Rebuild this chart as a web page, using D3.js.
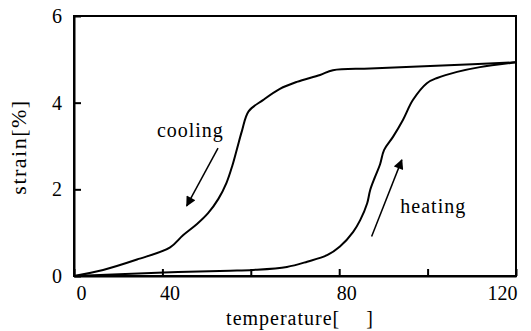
<!DOCTYPE html>
<html>
<head>
<meta charset="utf-8">
<script src="https://cdn.jsdelivr.net/npm/d3@7"></script>
<style>
  body { margin: 0; background: #fff; }
  .axis path, .axis line { stroke: #000; stroke-width: 2; }
  .curve { fill: none; stroke: #000; stroke-width: 2; stroke-linejoin: round; }
</style>
</head>
<body>
<div id="chart"></div>
<script>
const serif = '"Liberation Serif", "Times New Roman", "DejaVu Serif", serif';

// x tick marks and the labels the figure prints under some of them
const xTicks = [0, 24, 48, 72, 96, 120];
const xTickLabels = { 0: '0', 24: '40', 72: '80', 120: '120' };
const yTicks = [0, 2, 4, 6];

// heating branch: temperature, strain
const heatingT = [0, 24.4, 42.4, 48.6, 57.8, 63.3, 68.7, 72.2, 75.8, 77.7, 79.6, 80.4, 81.7, 83.1, 84.2, 86.6, 89.3, 92.0, 95.8, 98.6, 104, 110.2, 118.9, 120];
const heatingS = [0, 0.08, 0.12, 0.14, 0.21, 0.33, 0.48, 0.68, 1.02, 1.29, 1.68, 1.98, 2.28, 2.58, 2.91, 3.21, 3.60, 4.06, 4.45, 4.57, 4.71, 4.82, 4.92, 4.93];

// cooling branch, from hot to cold
const coolingT = [120, 100, 80.4, 70.3, 66.8, 60.5, 55.9, 51.3, 47.4, 45.6, 44.3, 43.0, 41.4, 39.2, 36.4, 33.4, 29.6, 26.1, 17.1, 7.9, 0];
const coolingS = [4.93, 4.86, 4.79, 4.75, 4.64, 4.48, 4.32, 4.06, 3.80, 3.35, 2.95, 2.55, 2.15, 1.78, 1.45, 1.20, 0.94, 0.66, 0.38, 0.14, 0];

// annotation arrows [from, to] in data units
const coolingArrow = [[39.1, 2.95], [30.6, 1.62]];
const heatingArrow = [[80.8, 0.91], [89.0, 2.68]];

const margins = { top: 16, right: 15, bottom: 55, left: 74 };
const dims = { width: 531, height: 331 };
const width = dims.width - margins.left - margins.right;
const height = dims.height - margins.top - margins.bottom;

const svg = d3.select('#chart')
  .append('svg')
  .attr('width', dims.width)
  .attr('height', dims.height)
  .style('display', 'block');

svg.append('defs').append('marker')
  .attr('id', 'head')
  .attr('viewBox', '0 0 10 10')
  .attr('refX', 9)
  .attr('refY', 5)
  .attr('markerUnits', 'userSpaceOnUse')
  .attr('markerWidth', 12)
  .attr('markerHeight', 10)
  .attr('orient', 'auto')
  .append('path')
  .attr('d', 'M0,0 L10,5 L0,10 Z')
  .attr('fill', '#000');

const g = svg.append('g')
  .attr('transform', `translate(${margins.left},${margins.top})`);

const x = d3.scaleLinear().domain([0, 120]).range([0, width]);
const y = d3.scaleLinear().domain([0, 6]).range([height, 0]);

// frame
g.append('rect')
  .attr('width', width)
  .attr('height', height)
  .attr('fill', 'none')
  .attr('stroke', '#000')
  .attr('stroke-width', 2);

const xAxis = g.append('g')
  .attr('class', 'axis')
  .attr('transform', `translate(0,${height})`)
  .call(d3.axisBottom(x)
    .tickValues(xTicks)
    .tickSizeInner(-7)
    .tickSizeOuter(0)
    .tickPadding(10)
    .tickFormat(d => xTickLabels[d] || ''));
xAxis.selectAll('text').attr('dx', d => (d === 120 ? -14 : 7));

const yAxis = g.append('g')
  .attr('class', 'axis')
  .call(d3.axisLeft(y)
    .tickValues(yTicks)
    .tickSizeInner(-7)
    .tickSizeOuter(0)
    .tickPadding(12)
    .tickFormat(d3.format('d')));

[xAxis, yAxis].forEach(a => a
  .attr('font-family', serif)
  .attr('font-size', 20)
  .selectAll('text')
  .attr('fill', '#000')
  .attr('font-family', serif)
  .attr('font-size', 20));

const line = d3.line()
  .x(d => x(d[0]))
  .y(d => y(d[1]))
  .curve(d3.curveCatmullRom.alpha(0.5));

g.append('path')
  .attr('class', 'curve')
  .attr('d', line(heatingT.map((t, i) => [t, heatingS[i]])));

g.append('path')
  .attr('class', 'curve')
  .attr('d', line(coolingT.map((t, i) => [t, coolingS[i]])));

[coolingArrow, heatingArrow].forEach(a => {
  g.append('line')
    .attr('x1', x(a[0][0])).attr('y1', y(a[0][1]))
    .attr('x2', x(a[1][0])).attr('y2', y(a[1][1]))
    .attr('stroke', '#000')
    .attr('stroke-width', 1.5)
    .attr('marker-end', 'url(#head)');
});

const label = (sel, size = 20, spacing = 1) => sel
  .attr('font-family', serif)
  .attr('font-size', size)
  .attr('letter-spacing', spacing)
  .attr('fill', '#000');

g.append('text')
  .attr('x', x(22.5))
  .attr('y', y(3.2))
  .call(label)
  .text('cooling');

g.append('text')
  .attr('x', x(88.6))
  .attr('y', y(1.45))
  .call(label)
  .text('heating');

svg.append('text')
  .attr('transform', 'translate(26,147) rotate(-90)')
  .attr('text-anchor', 'middle')
  .call(label, 22, 1.5)
  .text('strain[%]');

svg.append('text')
  .attr('x', 300)
  .attr('y', 325)
  .attr('text-anchor', 'middle')
  .call(label)
  .text('temperature[\u2003\u2009]');
</script>
</body>
</html>
